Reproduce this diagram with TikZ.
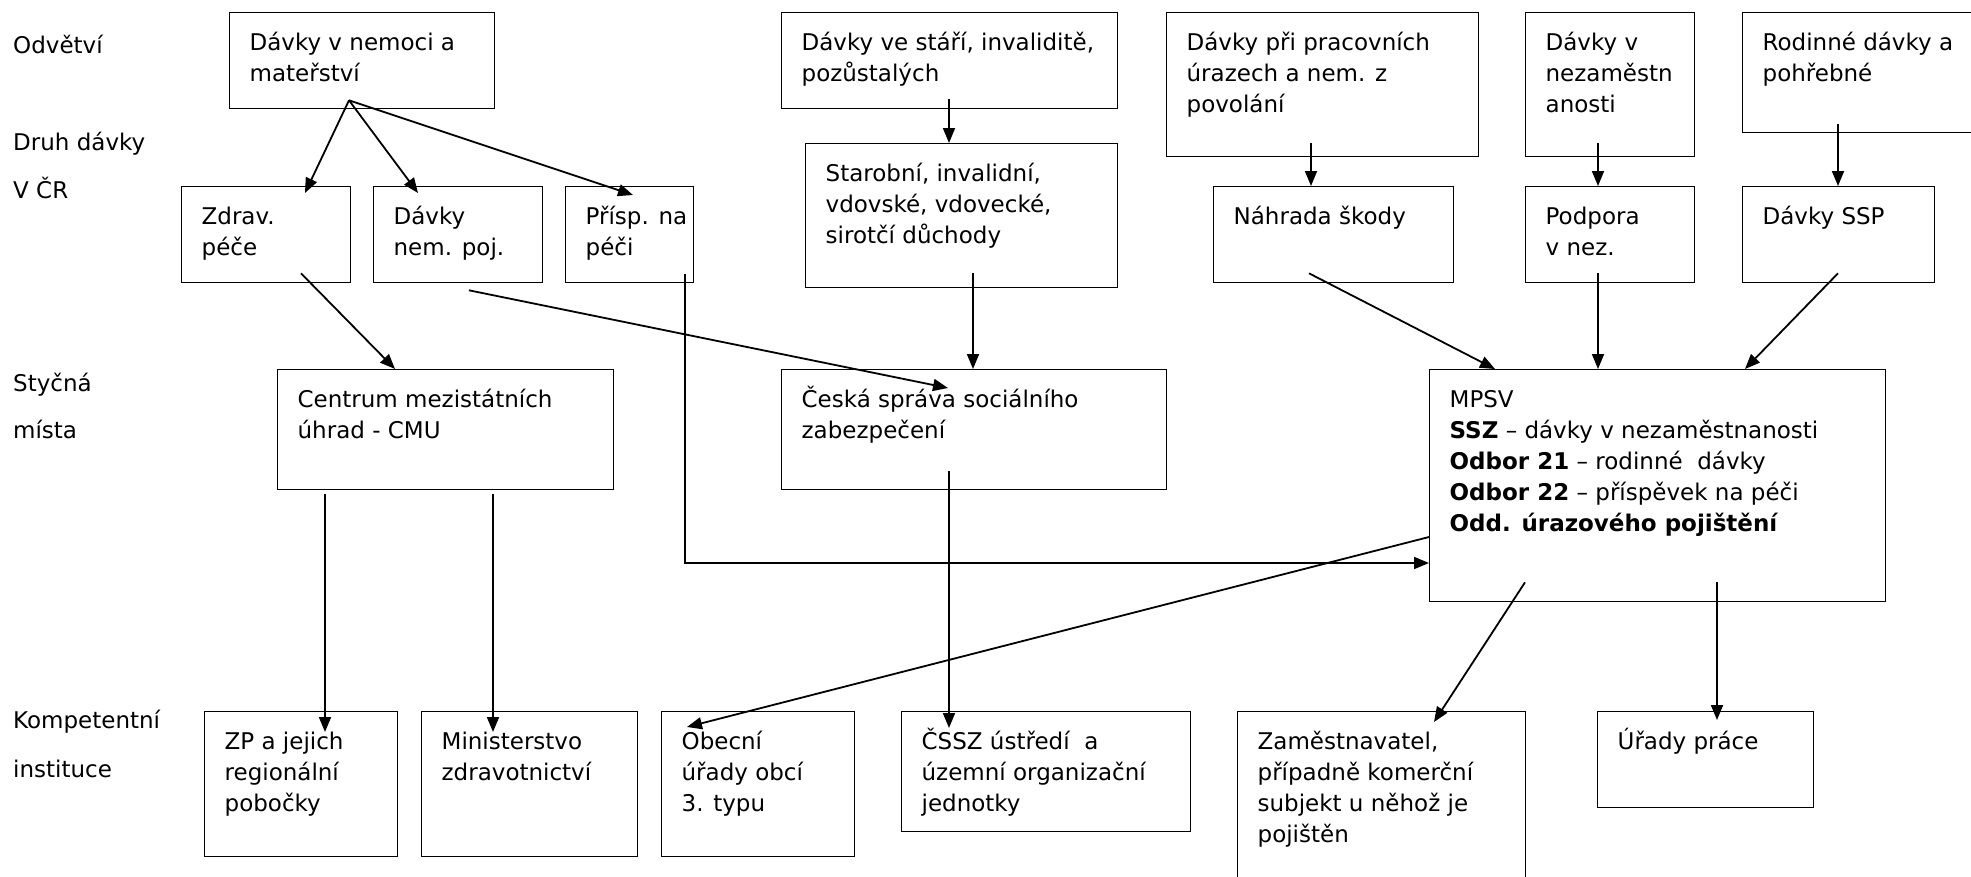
\documentclass[tikz,border=0pt]{standalone}
\usepackage{fontspec}
\setmainfont{DejaVu Sans}
\usetikzlibrary{arrows.meta,calc}

\newcommand{\boxtext}[3]{\parbox[t][\dimexpr#2pt-32pt\relax][t]{\dimexpr#1pt-40pt\relax}{\begin{tabular}[t]{@{}l@{}}#3\end{tabular}}}

\begin{document}
\begin{tikzpicture}[x=1pt, y=-1pt,
    every node/.style={font=\fontsize{23}{31}\selectfont},
    box/.style={draw, rectangle, anchor=north west, inner xsep=20pt, inner ysep=16pt, line width=1.3pt},
    lbl/.style={anchor=base west, inner sep=0pt},
    arr/.style={-{Triangle[length=15pt,width=12pt]}, line width=1.8pt}]
    \useasboundingbox (0,0) rectangle (1971,876);

    \node[lbl] (odvetvi) at (13,53) {Odvětví};
    \node[lbl] (druh) at (13,150) {Druh dávky};
    \node[lbl] (vcr) at (13,198) {V ČR};
    \node[lbl] (stycna) at (13,391) {Styčná};
    \node[lbl] (mista) at (13,438) {místa};
    \node[lbl] (kompet) at (13,728) {Kompetentní};
    \node[lbl] (instit) at (13,777) {instituce};

    \node[box] (nemoc) at (229,12) {\boxtext{265}{96}{Dávky v nemoci a\\ mateřství}};
    \node[box] (stari) at (781,12) {\boxtext{336}{96}{Dávky ve stáří, invaliditě,\\ pozůstalých}};
    \node[box] (uraz) at (1166,12) {\boxtext{312}{144}{Dávky při pracovních\\ úrazech a nem. z\\ povolání}};
    \node[box] (nezam) at (1525,12) {\boxtext{169}{144}{Dávky v\\ nezaměstn\\ anosti}};
    \node[box] (rodinne) at (1742,12) {\boxtext{250}{120}{Rodinné dávky a\\ pohřebné}};

    \node[box] (zdrav) at (181,186) {\boxtext{169}{96}{Zdrav.\\ péče}};
    \node[box] (nempoj) at (373,186) {\boxtext{169}{96}{Dávky\\ nem. poj.}};
    \node[box] (prisp) at (565,186) {\boxtext{128}{96}{Přísp. na\\ péči}};
    \node[box] (starobni) at (805,143) {\boxtext{312}{144}{Starobní, invalidní,\\ vdovské, vdovecké,\\ sirotčí důchody}};
    \node[box] (nahrada) at (1213,186) {\boxtext{240}{96}{Náhrada škody}};
    \node[box] (podpora) at (1525,186) {\boxtext{169}{96}{Podpora\\ v nez.}};
    \node[box] (ssp) at (1742,186) {\boxtext{192}{96}{Dávky SSP}};

    \node[box] (cmu) at (277,369) {\boxtext{336}{120}{Centrum mezistátních\\ úhrad - CMU}};
    \node[box] (cssz) at (781,369) {\boxtext{385}{120}{Česká správa sociálního\\ zabezpečení}};
    \node[box] (mpsv) at (1429,369) {\boxtext{456}{232}{MPSV\\ \textbf{SSZ} -- dávky v nezaměstnanosti\\ \textbf{Odbor 21} -- rodinné\ \ dávky\\ \textbf{Odbor 22} -- příspěvek na péči\\ \textbf{Odd. úrazového pojištění}}};

    \node[box] (zp) at (204,711) {\boxtext{193}{145}{ZP a jejich\\ regionální\\ pobočky}};
    \node[box] (minist) at (421,711) {\boxtext{216}{145}{Ministerstvo\\ zdravotnictví}};
    \node[box] (obecni) at (661,711) {\boxtext{193}{145}{Obecní\\ úřady obcí\\ 3. typu}};
    \node[box] (ustredi) at (901,711) {\boxtext{289}{120}{ČSSZ ústředí\ \ a\\ územní organizační\\ jednotky}};
    \node[box] (zamest) at (1237,711) {\boxtext{288}{179}{Zaměstnavatel,\\ případně komerční\\ subjekt u něhož je\\ pojištěn}};
    \node[box] (urady) at (1597,711) {\boxtext{216}{96}{Úřady práce}};

    \coordinate (fork) at ($(nemoc.south west)+(120,-9)$);
    \draw[arr] (fork) -- ($(zdrav.north west)+(124,7)$);
    \draw[arr] (fork) -- ($(nempoj.north west)+(45,7)$);
    \draw[arr] (fork) -- ($(prisp.north west)+(68,9)$);
    \draw[arr] ($(zdrav.south west)+(120,-10)$) -- ($(cmu.north west)+(118,0)$);
    \draw[arr] ($(nempoj.south west)+(96,7)$) -- ($(cssz.north west)+(167,19)$);
    \draw[arr] ($(prisp.south west)+(120,-9)$) |- ($(mpsv.north west)+(0,194)$);
    \draw[arr] ($(stari.south west)+(168,-10)$) -- ($(starobni.north west)+(144,0)$);
    \draw[arr] ($(starobni.south west)+(168,-15)$) -- ($(cssz.north west)+(192,0)$);
    \draw[arr] ($(uraz.south west)+(145,-14)$) -- ($(nahrada.north west)+(98,0)$);
    \draw[arr] ($(nezam.south west)+(73,-14)$) -- ($(podpora.north west)+(73,0)$);
    \draw[arr] ($(rodinne.south west)+(96,-9)$) -- ($(ssp.north west)+(96,0)$);
    \draw[arr] ($(nahrada.south west)+(96,-10)$) -- ($(mpsv.north west)+(66,0)$);
    \draw[arr] ($(podpora.south west)+(73,-10)$) -- ($(mpsv.north west)+(169,0)$);
    \draw[arr] ($(ssp.south west)+(96,-10)$) -- ($(mpsv.north west)+(316,0)$);
    \draw[arr] ($(cmu.south west)+(48,4)$) -- ($(zp.north west)+(121,21)$);
    \draw[arr] ($(cmu.south west)+(216,4)$) -- ($(minist.north west)+(72,21)$);
    \draw[arr] ($(cssz.south west)+(168,-19)$) -- ($(ustredi.north west)+(48,17)$);
    \draw[arr] ($(mpsv.north west)+(0,168)$) -- ($(obecni.north west)+(26,16)$);
    \draw[arr] ($(mpsv.south west)+(96,-20)$) -- ($(zamest.north west)+(197,11)$);
    \draw[arr] ($(mpsv.south west)+(288,-20)$) -- ($(urady.north west)+(120,9)$);
\end{tikzpicture}
\end{document}
